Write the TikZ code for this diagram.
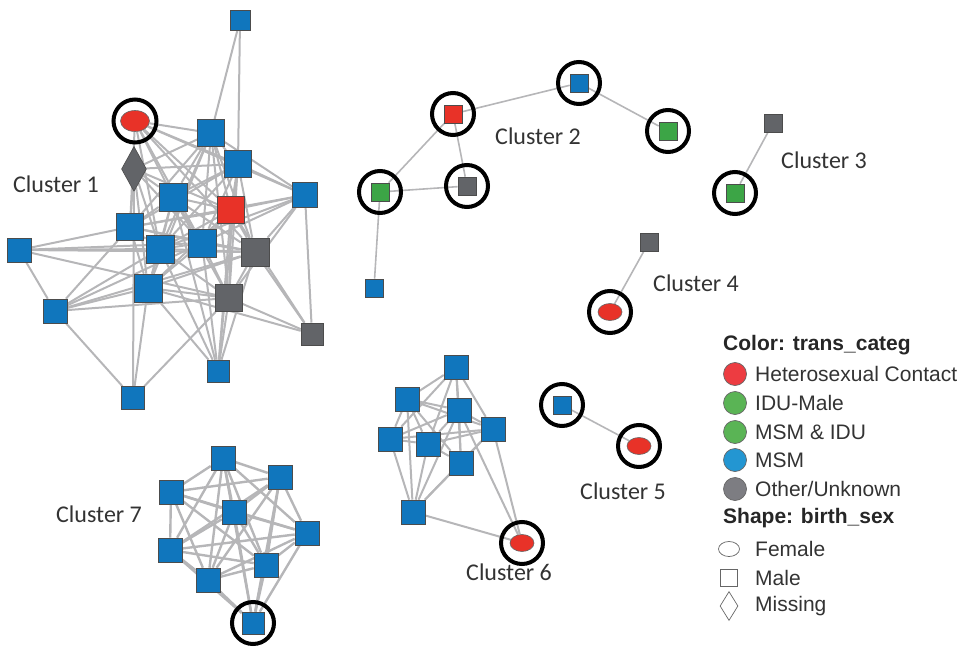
\documentclass[tikz,border=0pt]{standalone}
\usepackage{fontspec}
\setmainfont{Liberation Sans}
\newfontfamily\clfont{Carlito}
\usetikzlibrary{shapes.geometric,backgrounds}
\definecolor{NodeBlue}{RGB}{16,118,189}
\definecolor{NodeRed}{RGB}{232,50,40}
\definecolor{NodeGreen}{RGB}{60,165,70}
\definecolor{NodeGray}{RGB}{98,100,104}
\definecolor{EdgeGray}{RGB}{182,182,184}
\definecolor{LegRed}{RGB}{237,60,65}
\definecolor{LegGreen}{RGB}{90,180,85}
\definecolor{LegBlue}{RGB}{35,150,210}
\definecolor{LegGray}{RGB}{125,125,130}
\tikzset{
  sq/.style={rectangle,draw=black!70,line width=0.6pt,inner sep=0pt,minimum size=#1},
  sq/.default=24pt,
  fem/.style={ellipse,draw=black!60,line width=0.6pt,fill=NodeRed,inner sep=0pt,
    minimum width=24pt,minimum height=17pt},
  ring/.style={circle,draw=black,line width=4pt,minimum size=42pt,inner sep=0pt},
  link/.style={EdgeGray,line width=2pt},
  thin link/.style={EdgeGray,line width=1.6pt},
  clabel/.style={anchor=west,inner sep=0pt,font=\clfont\fontsize{24}{28}\selectfont,
    text=black!80},
  legtext/.style={anchor=west,inner sep=0pt,font=\fontsize{21}{24}\selectfont,text=black!80},
  legtitle/.style={anchor=west,inner sep=0pt,font=\bfseries\fontsize{21}{24}\selectfont,
    text=black!85},
  legdot/.style={circle,draw=black!60,line width=0.7pt,minimum size=23pt,inner sep=0pt}
}

\begin{document}
\begin{tikzpicture}[x=1pt,y=-1pt]
\useasboundingbox (0,0) rectangle (965,647);

% Cluster 1
\node[sq=20pt,fill=NodeBlue] (a1) at (240,20) {};
\node[fem,minimum width=29pt,minimum height=21pt] (a2) at (135,121) {};
\node[ring,minimum size=43pt] (r2) at (135,121) {};
\node[diamond,draw=black!70,line width=0.6pt,fill=NodeGray,inner sep=0pt,
  minimum width=25pt,minimum height=45pt] (a3) at (134,169) {};
\foreach \n/\x/\y/\c/\s in {a4/211/133/NodeBlue/27pt,a5/238/164/NodeBlue/27pt,
    a6/305/195/NodeBlue/25pt,a7/173/197/NodeBlue/28pt,a8/231/210/NodeRed/27pt,
    a9/130/227/NodeBlue/27pt,a10/160/249/NodeBlue/28pt,a11/202/243/NodeBlue/28pt,
    a12/255/252/NodeGray/28pt,a13/19/250/NodeBlue/24pt,a14/148/288/NodeBlue/28pt,
    a15/229/298/NodeGray/27pt,a16/55/311/NodeBlue/24pt,a17/312/334/NodeGray/22pt,
    a18/218/371/NodeBlue/22pt,a19/133/398/NodeBlue/23pt}
  \node[sq=\s,fill=\c] (\n) at (\x,\y) {};
\node[clabel] (l1) at (13,184) {Cluster 1};

% Cluster 2
\foreach \n/\x/\y/\c in {b1/579/83/NodeBlue,b2/453/114/NodeRed,b3/668/131/NodeGreen,
    b4/380/192/NodeGreen,b5/467/186/NodeGray}{
  \node[sq=18pt,fill=\c] (\n) at (\x,\y) {};
  \node[ring] (r\n) at (\x,\y) {};
}
\node[sq=18pt,fill=NodeBlue] (b6) at (374,288) {};
\node[clabel] (l2) at (495,136) {Cluster 2};

% Cluster 3
\node[sq=18pt,fill=NodeGray] (c1) at (773,123) {};
\node[sq=18pt,fill=NodeGreen] (c2) at (735,193) {};
\node[ring] (rc2) at (735,193) {};
\node[clabel] (l3) at (781,160) {Cluster 3};

% Cluster 4
\node[sq=18pt,fill=NodeGray] (d1) at (649,242) {};
\node[fem] (d2) at (610,312) {};
\node[ring] (rd2) at (610,312) {};
\node[clabel] (l4) at (653,283) {Cluster 4};

% Cluster 5
\node[sq=18pt,fill=NodeBlue] (e1) at (562,405) {};
\node[ring] (re1) at (562,405) {};
\node[fem] (e2) at (639,446) {};
\node[ring] (re2) at (639,446) {};
\node[clabel] (l5) at (580,491) {Cluster 5};

% Cluster 6
\foreach \n/\x/\y in {f1/456/367,f2/407/399,f3/459/410,f4/493/429,f5/390/439,
    f6/428/444,f7/461/463,f8/413/512}
  \node[sq,fill=NodeBlue] (\n) at (\x,\y) {};
\node[fem] (f9) at (522,543) {};
\node[ring] (rf9) at (522,543) {};
\node[clabel] (l6) at (466,572) {Cluster 6};

% Cluster 7
\foreach \n/\x/\y in {g1/223/458,g2/280/477,g3/171/492,g4/234/512,g5/307/533,
    g6/170/550,g7/266/565,g8/208/580}
  \node[sq,fill=NodeBlue] (\n) at (\x,\y) {};
\node[sq=22pt,fill=NodeBlue] (g9) at (253,623) {};
\node[ring] (rg9) at (253,623) {};
\node[clabel] (l7) at (56,514) {Cluster 7};

% Edges
\begin{scope}[on background layer]
  \foreach \a/\b in {a1/a4,a1/a5,
      a2/a4,a2/a5,a2/a7,a2/a8,a2/a9,a2/a10,a2/a11,a2/a12,a2/a6,
      a3/a7,a3/a9,a3/a10,a3/a11,a3/a8,a3/a14,a3/a4,a3/a5,a3/a19,
      a4/a5,a4/a7,a4/a8,a4/a9,a4/a10,a4/a11,a4/a12,a4/a6,a4/a14,a4/a15,
      a5/a6,a5/a7,a5/a8,a5/a9,a5/a10,a5/a11,a5/a12,a5/a15,a5/a18,
      a6/a8,a6/a11,a6/a12,a6/a17,a6/a9,a6/a10,a6/a15,
      a7/a8,a7/a9,a7/a10,a7/a11,a7/a12,a7/a14,a7/a15,a7/a18,
      a8/a9,a8/a10,a8/a11,a8/a12,a8/a14,a8/a15,a8/a18,a8/a17,
      a9/a10,a9/a11,a9/a13,a9/a14,a9/a16,a9/a12,
      a10/a11,a10/a13,a10/a14,a10/a16,a10/a18,a10/a15,a10/a12,
      a11/a12,a11/a13,a11/a14,a11/a16,a11/a15,a11/a18,
      a12/a15,a12/a17,a12/a14,a12/a18,a12/a16,
      a13/a16,a13/a12,a13/a15,
      a14/a15,a14/a16,a14/a18,a14/a19,a14/a17,
      a15/a16,a15/a17,a15/a18,a15/a19,a16/a19}
    \draw[link] (\a) -- (\b);
  \foreach \a/\b in {b2/b1,b1/b3,b2/b4,b2/b5,b4/b5,b4/b6,c1/c2,d1/d2,e1/e2}
    \draw[thin link] (\a) -- (\b);
  \foreach \a/\b in {f1/f2,f1/f3,f1/f4,f1/f5,f1/f6,f1/f7,f2/f3,f2/f4,f2/f5,f2/f6,
      f2/f7,f2/f8,f3/f4,f3/f5,f3/f6,f3/f7,f3/f8,f4/f5,f4/f6,f4/f7,f4/f8,f5/f6,
      f5/f8,f6/f7,f6/f8,f7/f8,f8/f9,f4/f9,f3/f9}
    \draw[link] (\a) -- (\b);
  \foreach \a/\b in {g1/g2,g1/g3,g1/g4,g1/g5,g1/g6,g1/g7,g1/g8,g1/g9,
      g2/g3,g2/g4,g2/g5,g2/g6,g2/g7,g2/g8,g2/g9,g3/g4,g3/g5,g3/g6,g3/g7,g3/g8,
      g4/g5,g4/g6,g4/g7,g4/g8,g4/g9,g5/g6,g5/g7,g5/g8,g5/g9,g6/g7,g6/g8,g6/g9,
      g7/g8,g7/g9,g8/g9}
    \draw[link,line width=2.4pt] (\a) -- (\b);
\end{scope}

% Legend
\node[legtitle] (t1) at (723,345) {Color: trans\_categ};
\foreach \n/\y/\c/\t in {k1/374/LegRed/Heterosexual Contact,k2/403/LegGreen/IDU-Male,
    k3/432/LegGreen/MSM \& IDU,k4/460/LegBlue/MSM,k5/489/LegGray/{Other/Unknown}}{
  \node[legdot,fill=\c] (\n) at (735,\y) {};
  \node[legtext] (\n t) at (755,\y) {\t};
}
\node[legtitle] (t2) at (723,518) {Shape: birth\_sex};
\node[ellipse,draw=black!60,line width=0.7pt,minimum width=21pt,minimum height=15pt,
  inner sep=0pt] (s1) at (729,549) {};
\node[legtext] (s1t) at (755,549) {Female};
\node[rectangle,draw=black!60,line width=0.7pt,minimum size=17pt,inner sep=0pt]
  (s2) at (729,578) {};
\node[legtext] (s2t) at (755,578) {Male};
\node[diamond,draw=black!60,line width=0.7pt,minimum width=18pt,minimum height=29pt,
  inner sep=0pt] (s3) at (729,606) {};
\node[legtext] (s3t) at (755,606) {Missing};

\end{tikzpicture}
\end{document}
